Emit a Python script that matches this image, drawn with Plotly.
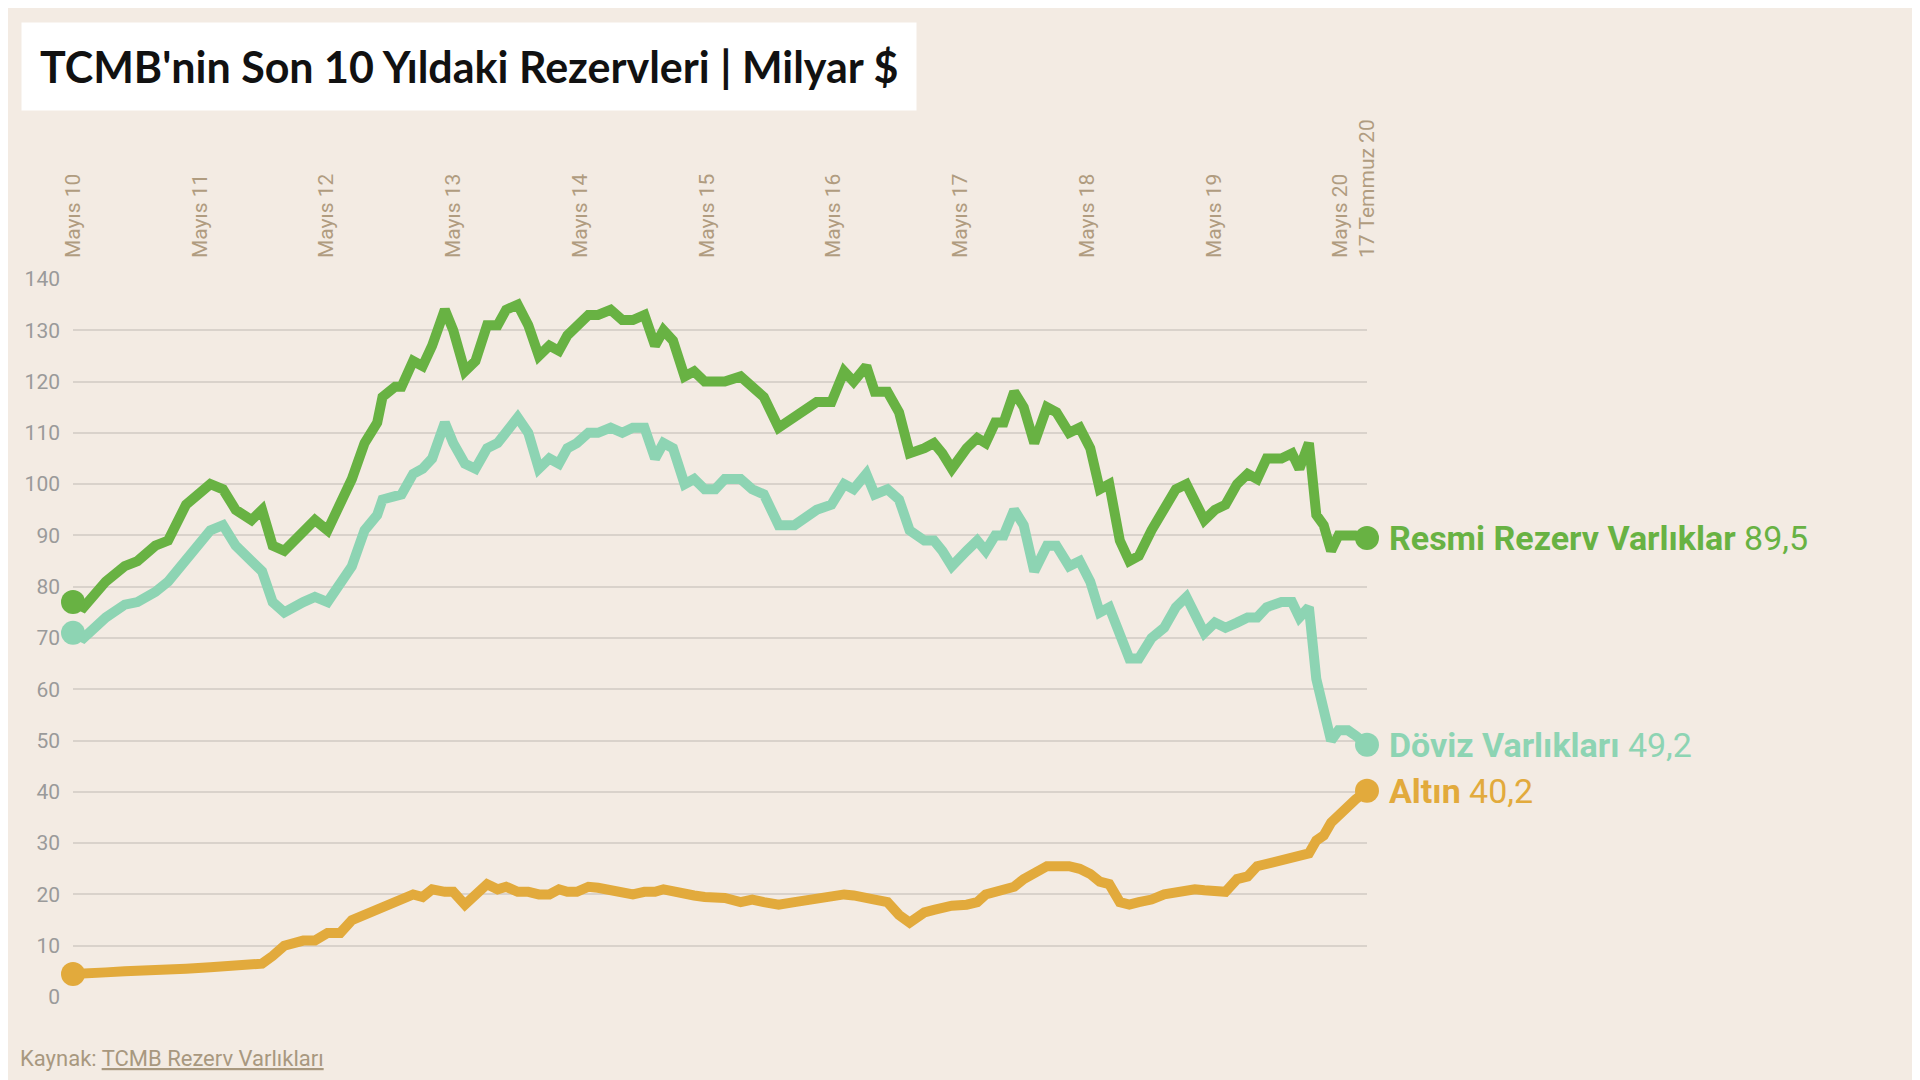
import plotly.graph_objects as go

months = [0,1,3.1,4.9,6.1,7.8,9,10.7,13,14.2,15.4,16.9,17.9,18.9,20,21.8,22.9,24.1,25.3,26.4,27.6,28.8,29.3,30.5,31.1,32.2,33.1,34,35.2,36,37.1,38.1,39.2,40.2,41,42.1,43.1,44.1,45.1,46,46.8,47.7,48.8,49.7,50.9,52,53,54.1,55.1,55.9,56.8,57.9,58.8,59.8,60.8,61.7,63.2,64.3,65.4,66.8,68.3,69.5,70.4,71.8,73,73.9,75.1,75.9,77.1,78.2,79.2,80.6,81.5,82.3,83.2,84.6,85.6,86.4,87.3,88.1,89.1,90,91,92.2,93.1,94.3,95.3,96.3,97.2,98.1,99.1,100,100.9,102.1,103.3,104.4,105.4,106.2,107.1,108.1,109.1,110.2,111.2,112.1,113,114.4,115.4,116.1,117,117.7,118.4,119.1,119.8,120.7,121.4,122.5]

resmi = [77,76,81,84,85,88,89,96,100,99,95,93,95,88,87,91,93,91,96,101,108,112,117,119,119,124,123,127,134,130,122,124,131,131,134,135,131,125,127,126,129,131,133,133,134,132,132,133,127,130,128,121,122,120,120,120,121,119,117,111,113,115,116,116,122,120,123,118,118,114,106,107,108,106,103,107,109,108,112,112,118,115,108,115,114,110,111,107,99,100,89,85,86,91,95,99,100,97,93,95,96,100,102,101,105,105,106,103,108,94,92,87,90,90,90,89.5]

doviz = [71,70,74,76.5,77,79,81,85,91,92,88,85,83,77,75,77,78,77,81,84,91,94,97,98,98,102,103,105,112,108,104,103,107,108,110,113,110,103,105,104,107,108,110,110,111,110,111,111,105,108,107,100,101,99,99,101,101,99,98,92,92,94,95,96,100,99,102,98,99,97,91,89,89,87,84,87,89,87,90,90,95,92,83,88,88,84,85,81,75,76,70,66,66,70,72,76,78,75,71,73,72,73,74,74,76,77,77,74,76,62,55,50,52,52,51,49.2]

altin = [4.5,4.5,4.8,5,5.2,5.3,5.5,5.5,5.8,6,6.3,6.8,6.5,8,10,11,11,12.5,12.5,15,16,17.5,17.5,18.5,19,20,19.5,21,20.5,20.5,18,20,22,21,21.5,20.5,20.5,20,20,21,20.5,20.5,21.5,21.3,21,20.5,20,20.5,20.5,21,20.5,20,19.8,19.5,19.5,19.3,18.5,19,18.5,18,18.5,19,19,19.5,20,19.8,19.5,19,18.5,16,14.5,16.5,17,17.5,17.8,18,18.5,20,20.5,20.5,21.5,23,24,25.5,25.5,25.5,25,24,22.5,22,18.5,18,18.5,19,20,20.5,21,21,20.8,20.5,20.5,23,23.5,25.5,26,26.5,27,27.5,28,30.5,31.5,34,35.5,37.5,38.5,40.2]

tick_vals = [0,12,24,36,48,60,72,84,96,108,120,122.5]
tick_text = ["Mayıs 10","Mayıs 11","Mayıs 12","Mayıs 13","Mayıs 14","Mayıs 15","Mayıs 16","Mayıs 17","Mayıs 18","Mayıs 19","Mayıs 20","17 Temmuz 20"]

series = [
    ("Resmi Rezerv Varlıklar", resmi, "#68b243", "89,5"),
    ("Döviz Varlıkları", doviz, "#8dd4b3", "49,2"),
    ("Altın", altin, "#e2aa3c", "40,2"),
]

fig = go.Figure()
for name, vals, col, lab in series:
    fig.add_trace(go.Scatter(x=months, y=vals, mode="lines", line=dict(color=col, width=10),
                             hoverinfo="skip", showlegend=False, cliponaxis=False))
    fig.add_trace(go.Scatter(x=[months[0], months[-1]], y=[vals[0], vals[-1]], mode="markers",
                             marker=dict(color=col, size=24), hoverinfo="skip", showlegend=False,
                             cliponaxis=False))
    fig.add_annotation(x=months[-1], y=vals[-1], xref="x", yref="y", xanchor="left", yanchor="middle",
                       xshift=20, showarrow=False,
                       text=f"<b>{name}</b> {lab}", font=dict(family="Roboto", size=34, color=col))

fig.add_annotation(xref="paper", yref="paper", x=(13-65)/1294, y=1+(271-58)/718, xanchor="left", yanchor="middle",
                   showarrow=False, align="left",
                   text="<b>TCMB'nin Son 10 Yıldaki Rezervleri | Milyar $</b>",
                   font=dict(family="Lato", size=43, color="#111"),
                   bgcolor="white", borderpad=18)
fig.add_annotation(xref="paper", yref="paper", x=-55/1294, y=-(1050-989)/718, xanchor="left", yanchor="middle",
                   showarrow=False,
                   text="Kaynak: <u>TCMB Rezerv Varlıkları</u>",
                   font=dict(family="Roboto", size=22, color="#a8987f"))

fig.update_layout(
    width=1920, height=1080,
    paper_bgcolor="#f3ebe3", plot_bgcolor="#f3ebe3",
    margin=dict(l=65, r=561, t=271, b=91),
    xaxis=dict(range=[0, 122.5], side="top", tickvals=tick_vals, ticktext=tick_text, tickangle=-90,
               showgrid=False, zeroline=False, showline=False, ticks="", ticklabelstandoff=20,
               tickfont=dict(family="Roboto", size=21, color="#b09c80")),
    yaxis=dict(range=[0, 140], dtick=10, showgrid=True, gridcolor="#d9d2cb", gridwidth=1.5,
               zeroline=False, ticks="", ticklabelstandoff=12,
               tickfont=dict(family="Roboto", size=21, color="#9a9a9a")),
    hovermode=False,
)
fig.write_html("out.html")
